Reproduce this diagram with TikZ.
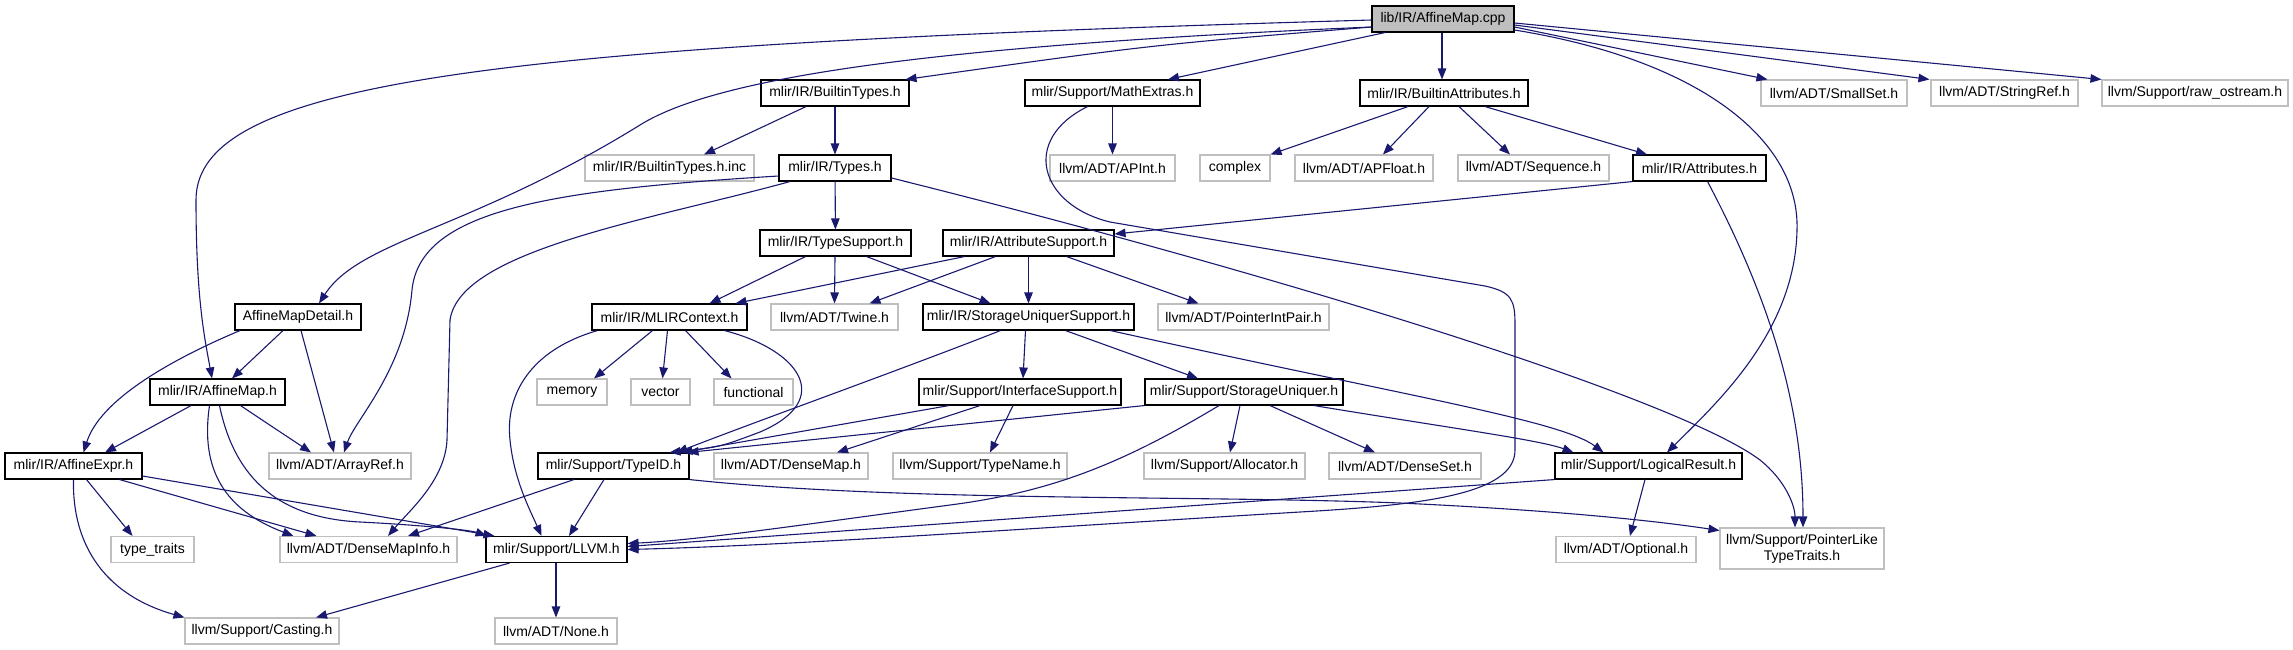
\documentclass[tikz,border=0pt]{standalone}
\usepackage{fontspec}
\setmainfont{Liberation Sans}
\usetikzlibrary{arrows.meta}
\definecolor{edgeblue}{HTML}{191970}
\definecolor{boxgray}{HTML}{BFBFBF}
\tikzset{
  nbox/.style={rectangle, minimum height=26pt, inner sep=0pt, line width=1.1pt, fill=white,
    font=\fontsize{14}{16}\selectfont},
  inc/.style={nbox, draw=black},
  ext/.style={nbox, draw=boxgray},
  root/.style={nbox, draw=black, fill=boxgray},
  e/.style={draw=edgeblue, line width=1.1pt, -{Triangle[length=11pt,width=8.5pt]}}
}
\begin{document}
\begin{tikzpicture}[x=1pt,y=-1pt]
\useasboundingbox (0,0) rectangle (2293,649);
% nodes
\node[root, minimum width=142] (cpp) at (1443,19) {lib/IR/AffineMap.cpp};
\node[inc, minimum width=148] (btypes) at (835,93) {mlir/IR/BuiltinTypes.h};
\node[inc, minimum width=175] (mathx) at (1112.5,93) {mlir/Support/MathExtras.h};
\node[inc, minimum width=168] (battr) at (1444,93) {mlir/IR/BuiltinAttributes.h};
\node[ext, minimum width=146] (smallset) at (1834,93) {llvm/ADT/SmallSet.h};
\node[ext, minimum width=147] (stringref) at (2004.5,93) {llvm/ADT/StringRef.h};
\node[ext, minimum width=186] (rawos) at (2195,93) {llvm/Support/raw\_ostream.h};
\node[ext, minimum width=169] (btinc) at (669.5,168) {mlir/IR/BuiltinTypes.h.inc};
\node[inc, minimum width=112] (types) at (835,168) {mlir/IR/Types.h};
\node[ext, minimum width=125] (apint) at (1112.5,168) {llvm/ADT/APInt.h};
\node[ext, minimum width=70] (complex) at (1235,168) {complex};
\node[ext, minimum width=138] (apfloat) at (1364,168) {llvm/ADT/APFloat.h};
\node[ext, minimum width=151] (sequence) at (1533.5,168) {llvm/ADT/Sequence.h};
\node[inc, minimum width=133] (attrs) at (1699.5,168) {mlir/IR/Attributes.h};
\node[inc, minimum width=151] (typesup) at (835.5,243) {mlir/IR/TypeSupport.h};
\node[inc, minimum width=171] (attrsup) at (1028.5,243) {mlir/IR/AttributeSupport.h};
\node[inc, minimum width=126] (amdetail) at (298,317) {AffineMapDetail.h};
\node[inc, minimum width=155] (mlirctx) at (669.5,317) {mlir/IR/MLIRContext.h};
\node[ext, minimum width=127] (twine) at (834.5,317) {llvm/ADT/Twine.h};
\node[inc, minimum width=211] (susupport) at (1028.5,317) {mlir/IR/StorageUniquerSupport.h};
\node[ext, minimum width=171] (ptrintpair) at (1243.5,317) {llvm/ADT/PointerIntPair.h};
\node[inc, minimum width=135] (affinemap) at (217.5,392) {mlir/IR/AffineMap.h};
\node[ext, minimum width=70] (memory) at (572,392) {memory};
\node[ext, minimum width=59] (vector) at (660.5,392) {vector};
\node[ext, minimum width=79] (functional) at (753.5,392) {functional};
\node[inc, minimum width=202] (ifsupport) at (1020,392) {mlir/Support/InterfaceSupport.h};
\node[inc, minimum width=198] (suniquer) at (1244,392) {mlir/Support/StorageUniquer.h};
\node[inc, minimum width=137] (affexpr) at (73.5,466) {mlir/IR/AffineExpr.h};
\node[ext, minimum width=142] (arrayref) at (340,466) {llvm/ADT/ArrayRef.h};
\node[inc, minimum width=151] (typeid) at (613.5,466) {mlir/Support/TypeID.h};
\node[ext, minimum width=154] (densemap) at (791,466) {llvm/ADT/DenseMap.h};
\node[ext, minimum width=174] (typename) at (980,466) {llvm/Support/TypeName.h};
\node[ext, minimum width=161] (allocator) at (1224.5,466) {llvm/Support/Allocator.h};
\node[ext, minimum width=152] (denseset) at (1405,466) {llvm/ADT/DenseSet.h};
\node[inc, minimum width=187] (logres) at (1648.5,466) {mlir/Support/LogicalResult.h};
\node[ext, minimum width=83] (typetraits) at (152.5,549.5) {type\_traits};
\node[ext, minimum width=177] (dmapinfo) at (368.5,549.5) {llvm/ADT/DenseMapInfo.h};
\node[inc, minimum width=141] (llvmh) at (556.5,549.5) {mlir/Support/LLVM.h};
\node[ext, minimum width=140] (optional) at (1626,549.5) {llvm/ADT/Optional.h};
\node[ext, minimum width=164, minimum height=41pt, align=center] (ptrlike) at (1802,548.5) {llvm/Support/PointerLike\\TypeTraits.h};
\node[ext, minimum width=154] (casting) at (262,631) {llvm/Support/Casting.h};
\node[ext, minimum width=122] (none) at (556,631) {llvm/ADT/None.h};
% edges from AffineMap.cpp
\draw[e] ([yshift=-1]cpp.west) .. controls (500,45) and (196,80) .. (196,200) .. controls (196,300) and (205,340) .. ([xshift=-5.5]affinemap.north);
\draw[e] ([yshift=-8]cpp.west) .. controls (950,45) and (720,75) .. (640,125) .. controls (470,230) and (360,240) .. ([xshift=21]amdetail.north);
\draw[e] ([yshift=-8]cpp.west) .. controls (1150,45) .. ([xshift=-4]btypes.north east);
\draw[e] ([xshift=-58]cpp.south) -- ([xshift=55.5]mathx.north);
\draw[e] ([xshift=-1]cpp.south) -- ([xshift=-2]battr.north);
\draw[e] ([yshift=-8]cpp.east) -- ([xshift=7]smallset.north west);
\draw[e] ([yshift=-6]cpp.east) -- ([xshift=-1]stringref.north west);
\draw[e] ([yshift=-4]cpp.east) -- (rawos.north west);
\draw[e] ([yshift=-11]cpp.east) .. controls (1700,60) and (1800,140) .. (1797,230) .. controls (1795,330) and (1720,400) .. ([xshift=18.5]logres.north);
% row 2
\draw[e] ([xshift=-29]btypes.south) -- ([xshift=34.5]btinc.north);
\draw[e] (btypes) -- (types);
\draw[e] (mathx) -- (apint);
\draw[e] ([xshift=-25]mathx.south) .. controls (1020,140) and (1040,205) .. (1110,222) -- (1485,286) .. controls (1512,292) and (1515,300) .. (1515,325) -- (1515,450) .. controls (1515,495) and (1420,505) .. (1300,512) .. controls (1000,530) and (800,545) .. (llvmh.east);
\draw[e] ([xshift=-36]battr.south) -- (complex.north east);
\draw[e] ([xshift=-15]battr.south) -- ([xshift=19]apfloat.north);
\draw[e] ([xshift=15]battr.south) -- ([xshift=-23.5]sequence.north);
\draw[e] ([xshift=41]battr.south) -- ([xshift=-52.5]attrs.north);
% Types.h
\draw[e] (types) -- (typesup);
\draw[e] ([yshift=-8]types.west) .. controls (550,190) and (420,210) .. (412,290) .. controls (405,370) and (355,420) .. ([xshift=4]arrayref.north);
\draw[e] ([xshift=-45]types.south) .. controls (650,220) and (460,250) .. (450,320) -- (447,440) .. controls (445,480) and (410,510) .. ([xshift=19.5]dmapinfo.north);
\draw[e] ([yshift=-10]types.east) .. controls (1300,280) and (1680,400) .. (1760,460) .. controls (1785,480) and (1795,505) .. ([xshift=-7]ptrlike.north);
% Attributes.h
\draw[e] (attrs.south west) -- ([yshift=9]attrsup.east);
\draw[e] ([xshift=8]attrs.south) .. controls (1765,290) and (1803,400) .. ([xshift=1]ptrlike.north);
% TypeSupport / AttributeSupport
\draw[e] ([xshift=-30]typesup.south) -- ([xshift=40]mlirctx.north);
\draw[e] ([xshift=-0.5]typesup.south) -- (twine.north);
\draw[e] ([xshift=31]typesup.south) -- ([xshift=-38]susupport.north);
\draw[e] ([xshift=-64]attrsup.south) -- ([xshift=66]mlirctx.north);
\draw[e] ([xshift=-33]attrsup.south) -- ([xshift=35]twine.north);
\draw[e] (attrsup) -- (susupport);
\draw[e] ([xshift=38]attrsup.south) -- ([xshift=-45]ptrintpair.north);
% MLIRContext
\draw[e] ([xshift=-17]mlirctx.south) -- ([xshift=22]memory.north);
\draw[e] ([xshift=-2]mlirctx.south) -- ([xshift=2]vector.north);
\draw[e] ([xshift=16]mlirctx.south) -- ([xshift=-22]functional.north);
\draw[e] ([xshift=-72]mlirctx.south) .. controls (530,350) and (505,395) .. (510,440) .. controls (514,480) and (530,510) .. ([xshift=-15]llvmh.north);
\draw[e] ([xshift=55]mlirctx.south) .. controls (800,350) and (835,400) .. (760,432) .. controls (720,447) .. ([xshift=56]typeid.north);
% StorageUniquerSupport
\draw[e] ([xshift=-28]susupport.south) .. controls (900,370) and (760,420) .. ([xshift=63]typeid.north);
\draw[e] ([xshift=-3]susupport.south) -- ([xshift=3]ifsupport.north);
\draw[e] ([xshift=37]susupport.south) -- ([xshift=-46]suniquer.north);
\draw[e] ([xshift=82]susupport.south) .. controls (1400,395) and (1560,420) .. ([xshift=-45]logres.north);
% InterfaceSupport
\draw[e] ([xshift=-71]ifsupport.south) -- ([xshift=68]typeid.north);
\draw[e] ([xshift=-40]ifsupport.south) -- ([xshift=46]densemap.north);
\draw[e] ([xshift=-7]ifsupport.south) -- ([xshift=10]typename.north);
% StorageUniquer
\draw[e] (suniquer.south west) -- ([xshift=-2]typeid.north east);
\draw[e] ([xshift=-25]suniquer.south) .. controls (1120,465) and (1050,492) .. (950,505) .. controls (800,525) and (700,540) .. ([yshift=6]llvmh.east);
\draw[e] ([xshift=-4]suniquer.south) -- ([xshift=5.5]allocator.north);
\draw[e] ([xshift=26]suniquer.south) -- ([xshift=-30]denseset.north);
\draw[e] ([xshift=70]suniquer.south) .. controls (1450,428) and (1540,440) .. ([xshift=-75]logres.north);
% LogicalResult
\draw[e] (logres.south west) -- ([yshift=3]llvmh.east);
\draw[e] ([xshift=-3.5]logres.south) -- ([xshift=4]optional.north);
% AffineMapDetail
\draw[e] ([xshift=-58]amdetail.south) .. controls (170,360) and (100,400) .. ([xshift=10]affexpr.north);
\draw[e] ([xshift=-15]amdetail.south) -- ([xshift=14.5]affinemap.north);
\draw[e] ([xshift=3]amdetail.south) -- ([xshift=-6]arrayref.north);
% AffineMap.h
\draw[e] ([xshift=-26.5]affinemap.south) -- ([xshift=31.5]affexpr.north);
\draw[e] ([xshift=23]affinemap.south) -- ([xshift=-29]arrayref.north);
\draw[e] ([xshift=-8]affinemap.south) .. controls (200,470) and (225,510) .. ([xshift=-75]dmapinfo.north);
\draw[e] ([xshift=2]affinemap.south) .. controls (235,480) and (280,518) .. (360,522) .. controls (420,525) and (470,530) .. ([xshift=-70]llvmh.north);
% AffineExpr.h
\draw[e] ([xshift=13]affexpr.south) -- ([xshift=-20]typetraits.north);
\draw[e] ([xshift=46]affexpr.south) -- ([xshift=-52]dmapinfo.north);
\draw[e] ([yshift=-10]affexpr.east) -- ([xshift=-62]llvmh.north);
\draw[e] (affexpr.south) .. controls (72,545) and (105,595) .. (casting.north west);
% TypeID.h
\draw[e] ([xshift=-39.5]typeid.south) -- ([xshift=39.5]dmapinfo.north);
\draw[e] ([xshift=-9.5]typeid.south) -- ([xshift=12.5]llvmh.north);
\draw[e] (typeid.south east) .. controls (900,502) and (1200,495) .. (1400,503) .. controls (1550,510) and (1650,520) .. ([yshift=18]ptrlike.west);
% LLVM.h
\draw[e] ([xshift=-47]llvmh.south) -- ([xshift=54]casting.north);
\draw[e] ([xshift=-0.5]llvmh.south) -- (none.north);
\end{tikzpicture}
\end{document}
